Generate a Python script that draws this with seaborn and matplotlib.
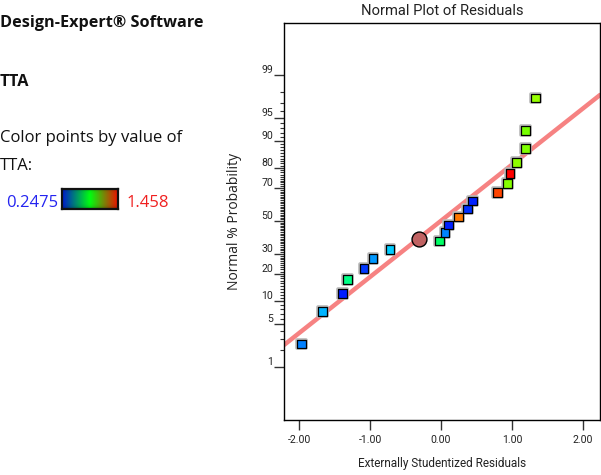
import numpy as np
import pandas as pd
import matplotlib
matplotlib.use("Agg")
import matplotlib.pyplot as plt
import matplotlib.patheffects as pe
from matplotlib.colors import LinearSegmentedColormap
from matplotlib.ticker import FixedLocator, NullFormatter
from matplotlib import font_manager
import seaborn as sns
from statistics import NormalDist

# ---------------- data ----------------
residuals = [-1.968, -1.672, -1.385, -1.320, -1.085, -0.958, -0.718, -0.018,
             0.056, 0.108, 0.244, 0.370, 0.446, 0.793, 0.934, 0.972,
             1.061, 1.187, 1.187, 1.328]
probability = [2.5, 7.5, 12.5, 17.5, 22.5, 27.5, 32.5, 37.5,
               42.5, 47.5, 52.5, 57.5, 62.5, 67.5, 72.5, 77.5,
               82.5, 87.5, 92.5, 97.5]
tta = [0.399, 0.465, 0.284, 0.695, 0.314, 0.429, 0.490, 0.732,
       0.405, 0.287, 1.313, 0.308, 0.290, 1.373, 1.010, 1.458,
       1.020, 1.000, 0.990, 1.030]
highlight_residual = [-0.314]
highlight_probability = [39.0]
fit_slope = 0.895
fit_intercept = 0.003
tta_min, tta_max = 0.2475, 1.458
x_ticks = [-2.0, -1.0, 0.0, 1.0, 2.0]
y_major = [1, 5, 10, 20, 30, 50, 70, 80, 90, 95, 99]
y_minor = [p for p in range(1, 100) if p not in y_major]
x_limits = (-2.211, 2.239)
y_limits_z = (-3.17, 3.153)

nd = NormalDist()
def pz(p):
    return nd.inv_cdf(p / 100.0)

df = pd.DataFrame({"residual": residuals,
                   "z": [pz(p) for p in probability],
                   "TTA": tta})

point_cmap = LinearSegmentedColormap.from_list(
    "hue", ["#0000FF", "#00FFFF", "#00FF00", "#FFFF00", "#FF0000"])
bar_cmap = LinearSegmentedColormap.from_list(
    "bar", ["#0018D0", "#00FF10", "#F01000"])

sns.set_style("white")
plt.rcParams["font.family"] = ["Open Sans", "DejaVu Sans"]

names = {f.name for f in font_manager.fontManager.ttflist}
if "Liberation Sans Narrow" in names:
    narrow = ["Liberation Sans Narrow", "DejaVu Sans"]
    k = 1.1
else:
    narrow = ["Roboto", "DejaVu Sans"]
    k = 0.92

fig = plt.figure(figsize=(6.01, 4.75), dpi=100)
ax = fig.add_axes([284 / 601, 1 - 420 / 475, 316 / 601, 397 / 475])

# fit line
xl = np.array(x_limits)
line_df = pd.DataFrame({"x": xl, "z": fit_slope * xl + fit_intercept})
sns.lineplot(data=line_df, x="x", y="z", ax=ax, color="#F68282",
             linewidth=3.2, zorder=2, legend=False)

# points
sns.scatterplot(data=df, x="residual", y="z",
                hue="TTA", palette=point_cmap,
                hue_norm=(tta_min, tta_max), marker="s", s=40,
                edgecolor="black", linewidth=0.9, ax=ax, legend=False,
                zorder=3)
for coll in ax.collections:
    coll.set_path_effects([pe.Stroke(linewidth=2.6, foreground="#b8b8b8"),
                           pe.Normal()])

hl = pd.DataFrame({"residual": highlight_residual,
                   "z": [pz(p) for p in highlight_probability]})
sns.scatterplot(data=hl, x="residual", y="z", ax=ax, marker="o", s=115,
                color="#C06262", edgecolor="black", linewidth=1.0,
                legend=False, zorder=4)

ax.set_xlim(*x_limits)
ax.set_ylim(*y_limits_z)

ax.set_xticks(x_ticks)
ax.set_xticklabels([f"{v:.2f}" for v in x_ticks])
ax.yaxis.set_major_locator(FixedLocator([pz(p) for p in y_major]))
ax.set_yticklabels([str(p) for p in y_major])
ax.yaxis.set_minor_locator(FixedLocator([pz(p) for p in y_minor]))
ax.yaxis.set_minor_formatter(NullFormatter())

ax.tick_params(axis="x", which="major", direction="out", length=7, width=1,
               color="#333333", pad=4, labelsize=8.2 * k, bottom=True)
ax.tick_params(axis="y", which="major", direction="out", length=7, width=1,
               color="#333333", pad=1, labelsize=8.2 * k, left=True)
ax.tick_params(axis="y", which="minor", direction="out", length=3, width=0.8,
               color="#333333", left=True)
for lab in ax.get_xticklabels() + ax.get_yticklabels():
    lab.set_family(narrow)
    lab.set_color("#222222")
for lab in ax.get_yticklabels():
    lab.set_va("bottom")

for sp in ax.spines.values():
    sp.set_color("black")
    sp.set_linewidth(1.0)

ax.set_title("Normal Plot of Residuals", fontsize=11.5 * k, family=narrow,
             color="#222222", pad=6)
ax.set_xlabel("Externally Studentized Residuals", fontsize=9.2 * k,
              family=narrow, color="#222222", va="top")
ax.xaxis.set_label_coords(0.5, -0.094)
ax.set_ylabel("Normal % Probability", fontsize=10, color="#222222")
ax.yaxis.set_label_coords(-0.133, 0.5)

# left-side annotations
def ft(px, py, s, **kw):
    fig.text(px / 601, 1 - py / 475, s, va="baseline", ha="left", **kw)

ft(0, 27, "Design-Expert® Software", fontsize=11.7, fontweight="bold",
   color="#111111")
ft(0, 86, "TTA", fontsize=11.7, fontweight="bold", color="#111111")
ft(0, 142, "Color points by value of", fontsize=12, color="#111111")
ft(0, 170, "TTA:", fontsize=12, color="#111111")
ft(6, 207, "0.2475", fontsize=12, color="#2424F0")
ft(127, 207, "1.458", fontsize=12, color="#F02020")

cax = fig.add_axes([62 / 601, 1 - 209 / 475, 56 / 601, 20 / 475])
grad = bar_cmap(np.linspace(0, 1, 256))[:, :3]
rows = np.linspace(-1, 1, 20)
shade = 1 - 0.25 * np.abs(rows) ** 4
img = grad[None, :, :] * shade[:, None, None]
cax.imshow(img, aspect="auto", extent=(0, 1, 0, 1))
cax.set_xticks([])
cax.set_yticks([])
for sp in cax.spines.values():
    sp.set_color("#111111")
    sp.set_linewidth(1.6)

fig.savefig("out.png", dpi=100)
